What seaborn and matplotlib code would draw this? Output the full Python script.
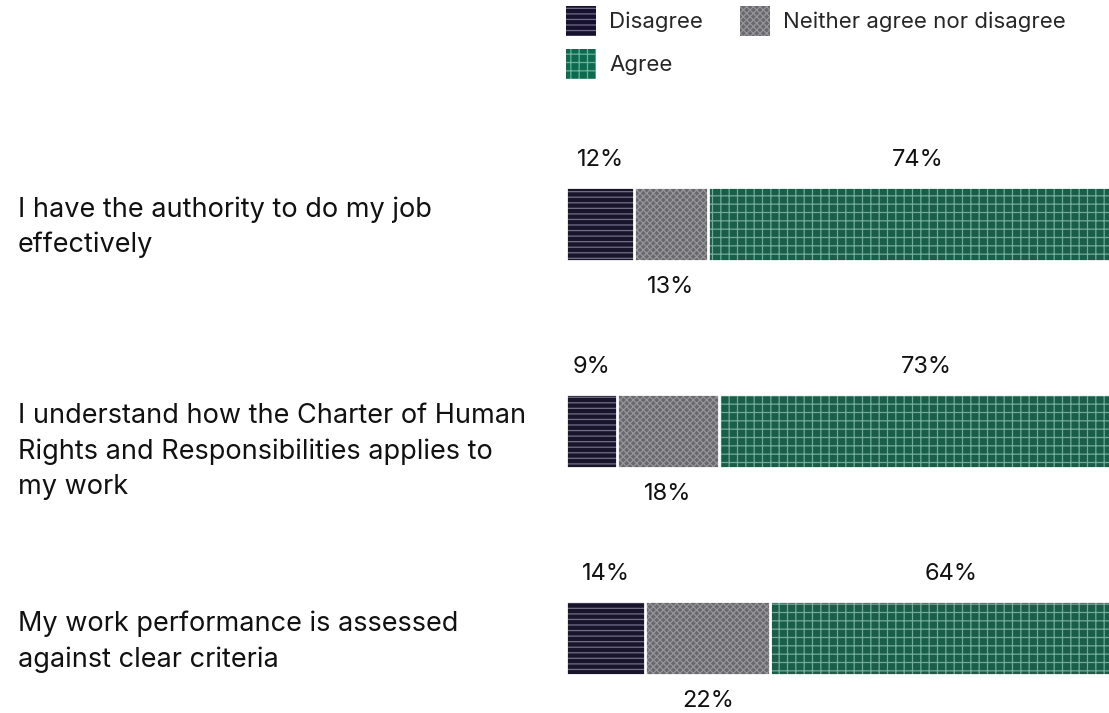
import matplotlib
matplotlib.use('Agg')
import matplotlib.pyplot as plt
import matplotlib.transforms as mtransforms
from matplotlib.patches import Patch
import numpy as np
import seaborn as sns

# survey data (percent of respondents)
questions = [
    'I have the authority to do my job\neffectively',
    'I understand how the Charter of Human\nRights and Responsibilities applies to\nmy work',
    'My work performance is assessed\nagainst clear criteria',
]
series = ['Disagree', 'Neither agree nor disagree', 'Agree']
disagree = [12, 9, 14]
neither = [13, 18, 22]
agree = [74, 73, 64]

colors = {'Disagree': '#16112c', 'Neither agree nor disagree': '#68686d', 'Agree': '#0c6a4e'}
hatches = {'Disagree': '---', 'Neither agree nor disagree': 'xxxxx', 'Agree': '++'}
hatch_colors = {'Disagree': (0.75, 0.72, 0.85, 0.55),
                'Neither agree nor disagree': (0.85, 0.85, 0.88, 0.4),
                'Agree': (0.75, 0.92, 0.85, 0.55)}

sns.set_theme(style='white')
plt.rcParams['font.family'] = ['Inter', 'DejaVu Sans']
plt.rcParams['hatch.linewidth'] = 0.9

W, H = 1109, 713
fig = plt.figure(figsize=(W / 100, H / 100), dpi=100)
ax = fig.add_axes([566 / W, 0, 1 - 566 / W, 1])

# stacked bars drawn as overlaid cumulative totals (largest first)
values = [np.array(disagree), np.array(neither), np.array(agree)]
cumulative = np.cumsum(values, axis=0)
bar_w = 0.36

for k in [2, 1, 0]:
    name = series[k]
    sns.barplot(x=cumulative[k], y=questions, orient='h', width=bar_w,
                color=colors[name], hatch=hatches[name],
                edgecolor=hatch_colors[name], linewidth=0, ax=ax)
    # white separators between segments
    sns.barplot(x=cumulative[k], y=questions, orient='h', width=bar_w,
                color='white', fill=False, linewidth=2, ax=ax)

ax.set_xlim(0, 95.8)
ax.set_ylim(2.362, -1.082)
ax.set_xticks([])
ax.set_yticks([])
ax.set_xlabel('')
ax.set_ylabel('')
sns.despine(ax=ax, left=True, bottom=True)

# value labels
for i in range(len(questions)):
    d, n, a = disagree[i], neither[i], agree[i]
    ax.text(d / 2, i - 0.31, f'{d}%', ha='center', va='center', fontsize=17, color='#111111')
    ax.text(d + n / 2, i + 0.305, f'{n}%', ha='center', va='center', fontsize=17, color='#111111')
    ax.text(d + n + a / 2, i - 0.31, f'{a}%', ha='center', va='center', fontsize=17, color='#111111')

# question labels on the left
trans = mtransforms.blended_transform_factory(fig.transFigure, ax.transData)
for i, q in enumerate(questions):
    ax.text(18 / W, i - 0.135, q, transform=trans, ha='left', va='top',
            fontsize=19.5, linespacing=1.46, color='#111111', clip_on=False)

# legend (row-wise order)
handles = [Patch(facecolor=colors[s], edgecolor=hatch_colors[s], hatch=hatches[s],
                 linewidth=0, label=s) for s in series]
order = [0, 2, 1]
fig.legend([handles[k] for k in order], [series[k] for k in order],
           loc='upper left', bbox_to_anchor=(566 / W, 1 - 6 / H), ncol=2,
           frameon=False, fontsize=16, handlelength=1.35, handleheight=1.7,
           handletextpad=0.6, columnspacing=1.65, labelspacing=0.58,
           borderpad=0, borderaxespad=0)

fig.savefig('out.png', dpi=100)
